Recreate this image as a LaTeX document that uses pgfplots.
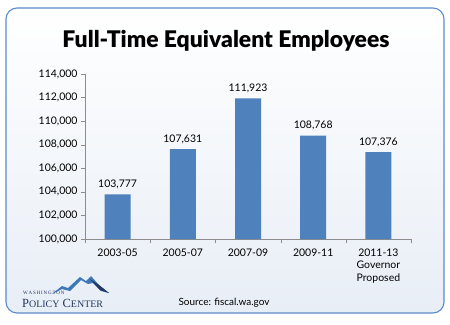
\documentclass[border=0pt]{standalone}
\usepackage{fontspec}
\setmainfont{Lato}
\newfontfamily\titlefont{Lato Black}
\newfontfamily\logofont{Liberation Serif}
\usepackage{pgfplots}
\pgfplotsset{compat=1.18}
\definecolor{barblue}{HTML}{4F81BD}
\definecolor{frameblue}{HTML}{5B8BC9}
\definecolor{navy}{HTML}{22365E}
\definecolor{logoblue}{HTML}{3E78B8}
\definecolor{axisgray}{HTML}{8C8C8C}
\begin{document}
\begin{tikzpicture}[x=1bp,y=1bp]
\fill[white] (0,0) rectangle (450,324);
\shade[top color=white, bottom color={rgb,255:red,232;green,238;blue,246}, rounded corners=11bp]
  (6,11) rectangle (444,316);
\draw[frameblue, line width=1.1bp, rounded corners=11bp] (6,11) rectangle (444,316);
\node[font=\titlefont\fontsize{23}{26}\selectfont, text=black, anchor=base] at (226,277) {Full-Time Equivalent Employees};
\begin{axis}[
  at={(85bp,85bp)}, anchor=south west,
  width=326bp, height=165bp, scale only axis,
  xmin=-0.5, xmax=4.5, ymin=100000, ymax=114000,
  ytick={100000,102000,...,114000},
  axis lines*=left,
  axis line style={axisgray},
  xtick={0,1,2,3,4},
  xticklabels={2003-05,2005-07,2007-09,2009-11,{2011-13\\Governor\\Proposed}},
  xticklabel style={align=center, font=\fontsize{10.5}{12.5}\selectfont, text=black, yshift=-2bp},
  major x tick style={draw=none},
  minor xtick={-0.5,0.5,...,4.5},
  minor tick length=4bp,
  minor x tick style={axisgray},
  tick align=outside,
  major tick length=4bp,
  y tick style={axisgray},
  yticklabel style={font=\fontsize{10.5}{12}\selectfont, text=black},
  /pgf/number format/assume math mode=true,
  /pgf/number format/.cd, 1000 sep={,}, fixed, precision=0, /pgfplots/.cd,
  scaled y ticks=false,
  ybar, bar width=26bp,
  nodes near coords,
  nodes near coords style={font=\fontsize{10.5}{12}\selectfont, text=black, /pgf/number format/1000 sep={,}, /pgf/number format/fixed, /pgf/number format/precision=0, yshift=2bp},
  enlarge x limits=false,
  clip=false,
]
\addplot[fill=barblue, draw=none] coordinates {(0,103777) (1,107631) (2,111923) (3,108768) (4,107376)};
\end{axis}
% logo
\fill[logoblue] (52,30) -- (62,38) -- (68,36) -- (80,47) -- (86,43) -- (91,48) -- (99,39) -- (109,31) -- (101,33) -- (93,41) -- (88,40) -- (81,44) -- (70,33) -- (62,35) -- cycle;
\fill[navy] (90,45) -- (99,39) -- (109,31) -- (100,34) -- cycle;
\node[anchor=base west, inner sep=0, text=navy, font=\logofont\fontsize{5}{6}\selectfont] at (23,30) {W\,A\,S\,H\,I\,N\,G\,T\,O\,N};
\node[anchor=base west, inner sep=0, text=navy, font=\logofont\fontsize{12.5}{14}\selectfont] at (22,17) {P{\fontsize{10}{12}\selectfont OLICY} C{\fontsize{10}{12}\selectfont ENTER}};
\node[font=\fontsize{10}{12}\selectfont, text=black, anchor=base] at (224,19) {Source: fiscal.wa.gov};
\end{tikzpicture}
\end{document}
